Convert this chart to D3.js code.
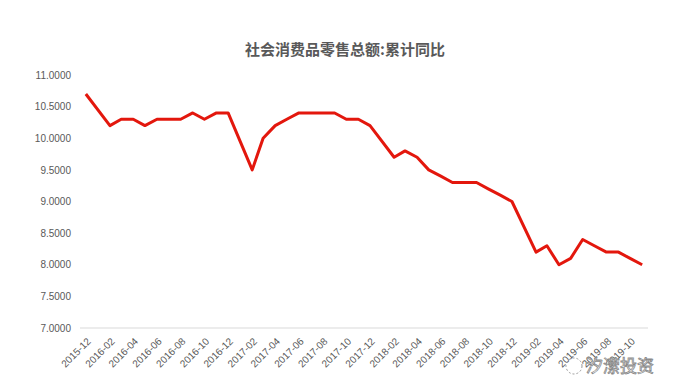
<!DOCTYPE html>
<html>
<head>
<meta charset="utf-8">
<script src="https://cdn.jsdelivr.net/npm/d3@7"></script>
<style>
  body { margin: 0; background: #fff; }
  text { font-family: "Liberation Sans", Arial, sans-serif; fill: #595959; }
  .title { font-family: "Noto Sans CJK SC", sans-serif; font-weight: bold; font-size: 15px; }
  .tick-label { font-size: 10px; }
  .watermark { font-family: "Noto Sans CJK SC", sans-serif; font-size: 17px; fill: #fff; stroke: #888; stroke-width: 0.8px; }
</style>
</head>
<body>
<svg width="677" height="392"></svg>
<script>
// months (cumulative YoY, Jan merged into Feb so there is no January point)
const months = [
  "2015-12", "2016-02", "2016-03", "2016-04", "2016-05", "2016-06", "2016-07",
  "2016-08", "2016-09", "2016-10", "2016-11", "2016-12", "2017-02", "2017-03",
  "2017-04", "2017-05", "2017-06", "2017-07", "2017-08", "2017-09", "2017-10",
  "2017-11", "2017-12", "2018-02", "2018-03", "2018-04", "2018-05", "2018-06",
  "2018-07", "2018-08", "2018-09", "2018-10", "2018-11", "2018-12", "2019-02",
  "2019-03", "2019-04", "2019-05", "2019-06", "2019-07", "2019-08", "2019-09",
  "2019-10", "2019-11"
];
const values = [
  10.7, 10.2, 10.3, 10.3, 10.2, 10.3, 10.3,
  10.3, 10.4, 10.3, 10.4, 10.4, 9.5, 10.0,
  10.2, 10.3, 10.4, 10.4, 10.4, 10.4, 10.3,
  10.3, 10.2, 9.7, 9.8, 9.7, 9.5, 9.4,
  9.3, 9.3, 9.3, 9.2, 9.1, 9.0, 8.2,
  8.3, 8.0, 8.1, 8.4, 8.3, 8.2, 8.2,
  8.1, 8.0
];
const xTickLabels = [
  "2015-12", "2016-02", "2016-04", "2016-06", "2016-08", "2016-10", "2016-12",
  "2017-02", "2017-04", "2017-06", "2017-08", "2017-10", "2017-12", "2018-02",
  "2018-04", "2018-06", "2018-08", "2018-10", "2018-12", "2019-02", "2019-04",
  "2019-06", "2019-08", "2019-10"
];
const yTicks = [7.0, 7.5, 8.0, 8.5, 9.0, 9.5, 10.0, 10.5, 11.0];
const title = "社会消费品零售总额:累计同比";

const svg = d3.select("svg");
const parseMonth = d3.timeParse("%Y-%m");

const data = months.map((m, i) => ({ date: parseMonth(m), value: values[i] }));

// plot area
const plot = { left: 80, right: 648, top: 75, bottom: 328 };

// half a month of padding on each end, like a date axis with monthly slots
const first = data[0].date;
const last = data[data.length - 1].date;
const xScale = d3.scaleTime()
  .domain([d3.timeDay.offset(first, -15), d3.timeDay.offset(last, 15)])
  .range([plot.left, plot.right]);

const yScale = d3.scaleLinear()
  .domain([7, 11])
  .range([plot.bottom, plot.top]);

// title
svg.append("text")
  .attr("class", "title")
  .attr("x", 345)
  .attr("y", 55)
  .attr("text-anchor", "middle")
  .text(title);

// y axis labels
const yAxisG = svg.append("g")
  .attr("transform", `translate(${plot.left},0)`)
  .call(d3.axisLeft(yScale).tickValues(yTicks).tickSize(0).tickPadding(9).tickFormat(d3.format(".4f")));
yAxisG.select(".domain").remove();
yAxisG.selectAll("text")
  .attr("class", "tick-label")
  .attr("font-family", null)
  .attr("font-size", null)
  .attr("fill", null);

// baseline at 7.0
svg.append("line")
  .attr("x1", plot.left).attr("x2", plot.right)
  .attr("y1", yScale(7)).attr("y2", yScale(7))
  .attr("stroke", "#d9d9d9")
  .attr("stroke-width", 1);

// x axis labels, rotated
const xAxisG = svg.append("g")
  .attr("transform", `translate(0,${plot.bottom})`)
  .call(d3.axisBottom(xScale)
    .tickValues(xTickLabels.map(parseMonth))
    .tickSize(0)
    .tickFormat(d3.timeFormat("%Y-%m")));
xAxisG.select(".domain").remove();
xAxisG.selectAll("text")
  .attr("class", "tick-label")
  .attr("font-family", null)
  .attr("font-size", null)
  .attr("fill", null)
  .attr("text-anchor", "end")
  .attr("dy", null)
  .attr("y", 0)
  .attr("transform", "translate(5,14) rotate(-45)");

// the line
const line = d3.line()
  .x((d) => xScale(d.date))
  .y((d) => yScale(d.value));

svg.append("path")
  .datum(data)
  .attr("fill", "none")
  .attr("stroke", "#e3170d")
  .attr("stroke-width", 3)
  .attr("stroke-linejoin", "round")
  .attr("d", line);

// watermark
const wm = svg.append("g").attr("transform", "translate(574,366)");
wm.append("circle")
  .attr("r", 8)
  .attr("fill", "none")
  .attr("stroke", "#999")
  .attr("stroke-dasharray", "2,2");
wm.append("text")
  .attr("class", "watermark")
  .attr("x", 12)
  .attr("y", 6)
  .text("汐潆投资");
</script>
</body>
</html>
